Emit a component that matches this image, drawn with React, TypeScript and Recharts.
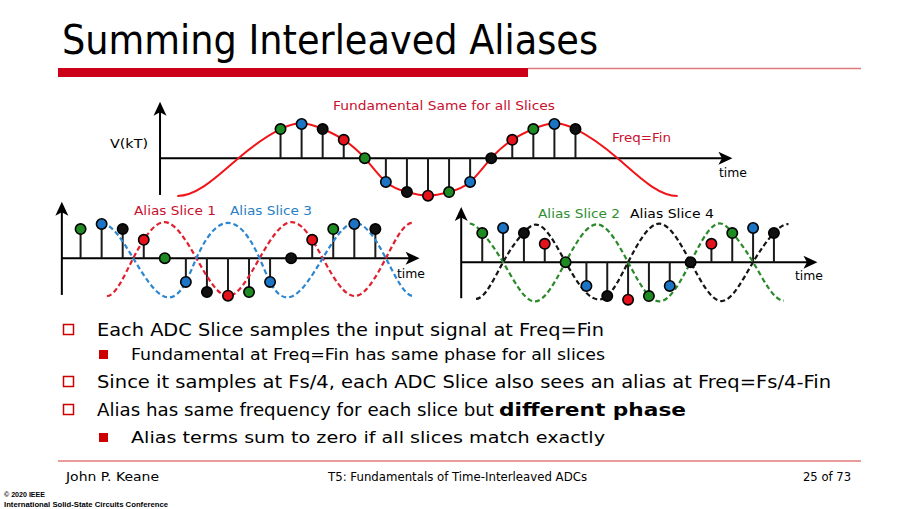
import React from 'react';
import { ComposedChart, Line, Scatter, XAxis, YAxis, ReferenceLine } from 'recharts';

// ---------- data ----------
const sampleIndex = [0, 1, 2, 3, 4, 5, 6, 7, 8, 9, 10, 11, 12, 13, 14];
const sampleValues = [0.81, 0.95, 0.81, 0.51, 0, -0.66, -0.94, -1.04, -0.94, -0.66, 0, 0.51, 0.81, 0.95, 0.81];
const sampleSlice = [2, 3, 4, 1, 2, 3, 4, 1, 2, 3, 4, 1, 2, 3, 4];

const fundamentalT = [-4.9, -2, 0, 1, 2, 3, 4, 5, 6, 7, 8, 9, 10, 11, 12, 13, 14, 16, 18.85];
const fundamentalV = [-1.05, 0, 0.81, 0.97, 0.81, 0.51, 0, -0.66, -0.94, -1.04, -0.94, -0.66, 0, 0.51, 0.81, 0.97, 0.81, 0, -1.05];

const alias1T = [1.25, 2.5, 3, 4, 5.5, 7, 8.5, 10, 11, 11.5, 13, 14.5, 15.75];
const alias1V = [-1.05, 0, 0.51, 1.0, 0, -1.05, 0, 1.0, 0.51, 0, -1.05, 0, 0.98];
const alias3T = [1, 2.5, 4, 5, 5.5, 7, 8.5, 9, 10, 11.5, 13, 14.5, 15.8];
const alias3V = [0.96, 0, -1.07, -0.66, 0, 0.98, 0, -0.66, -1.07, 0, 0.98, 0, -1.05];
const alias2T = [-0.6, 0, 1, 2.5, 4, 5.5, 7, 8, 8.5, 10, 11.5, 12, 13, 14.48];
const alias2V = [1.07, 0.82, 0, -1.09, 0, 1.05, 0, -0.93, -1.09, 0, 1.07, 0.82, 0, -1.07];
const alias4T = [-0.3, 1, 2, 2.5, 4, 5.5, 6, 7, 8.5, 10, 11.5, 13, 14, 14.7];
const alias4V = [-1.02, 0, 0.83, 1.04, 0, -1.03, -0.94, 0, 1.07, 0, -1.08, 0, 0.81, 1.06];

const sliceColors: Record<number, string> = { 1: '#e3121b', 2: '#1e8a22', 3: '#1c75c4', 4: '#111111' };

const toPoints = (t: number[], v: number[]) => t.map((x, i) => ({ x, y: v[i] }));

// Cubic spline curve factory (clamped, flat ends) passed to Recharts as the line type
const clampedSpline: any = (context: any) => {
  let xs: number[] = [];
  let ys: number[] = [];
  return {
    areaStart() {},
    areaEnd() {},
    lineStart() { xs = []; ys = []; },
    point(x: number, y: number) { xs.push(+x); ys.push(+y); },
    lineEnd() {
      const n = xs.length;
      if (!n) return;
      context.moveTo(xs[0], ys[0]);
      if (n === 1) return;
      const h: number[] = [];
      const d: number[] = [];
      for (let i = 0; i < n - 1; i++) {
        h.push(xs[i + 1] - xs[i]);
        d.push((ys[i + 1] - ys[i]) / h[i]);
      }
      const m: number[] = new Array(n).fill(0);
      if (n > 2) {
        const k = n - 2;
        const a: number[] = [], b: number[] = [], c: number[] = [], r: number[] = [];
        for (let j = 0; j < k; j++) {
          const i = j + 1;
          a.push(h[i]);
          b.push(2 * (h[i - 1] + h[i]));
          c.push(h[i - 1]);
          r.push(3 * (h[i] * d[i - 1] + h[i - 1] * d[i]));
        }
        for (let j = 1; j < k; j++) {
          const w = a[j] / b[j - 1];
          b[j] -= w * c[j - 1];
          r[j] -= w * r[j - 1];
        }
        const sol: number[] = new Array(k).fill(0);
        sol[k - 1] = r[k - 1] / b[k - 1];
        for (let j = k - 2; j >= 0; j--) sol[j] = (r[j] - c[j] * sol[j + 1]) / b[j];
        for (let j = 0; j < k; j++) m[j + 1] = sol[j];
      }
      for (let i = 0; i < n - 1; i++) {
        const hh = h[i];
        context.bezierCurveTo(xs[i] + hh / 3, ys[i] + (m[i] * hh) / 3, xs[i + 1] - hh / 3, ys[i + 1] - (m[i + 1] * hh) / 3, xs[i + 1], ys[i + 1]);
      }
    },
  };
};

// ---------- shapes ----------
const makeDot = (fill: string) => (p: any) => (
  <circle cx={p.cx} cy={p.cy} r={5.2} fill={fill} stroke="#000" strokeWidth={1.6} />
);
const UpArrow = (p: any) => (
  <path d={`M${p.cx},${p.cy} L${p.cx + 6.5},${p.cy + 14} L${p.cx},${p.cy + 10.5} L${p.cx - 6.5},${p.cy + 14} Z`} fill="#000" />
);
const RightArrow = (p: any) => (
  <path d={`M${p.cx},${p.cy} L${p.cx - 14},${p.cy - 6.5} L${p.cx - 10.5},${p.cy} L${p.cx - 14},${p.cy + 6.5} Z`} fill="#000" />
);

type Curve = { t: number[]; v: number[]; color: string; dash?: string; width: number };

function StemChart(props: {
  left: number; top: number; width: number; height: number;
  xDomain: [number, number]; yDomain: [number, number];
  axisX: number; axisTop: number; axisBottom: number; axisEnd: number;
  curves: Curve[];
}) {
  const { left, top, width, height, xDomain, yDomain, axisX, axisTop, axisBottom, axisEnd, curves } = props;
  const samples = sampleIndex.map((x, i) => ({ x, y: sampleValues[i], s: sampleSlice[i] }));
  return (
    <div style={{ position: 'absolute', left, top, width, height }}>
      <ComposedChart width={width} height={height} margin={{ top: 0, right: 0, bottom: 0, left: 0 }}>
        <XAxis type="number" dataKey="x" domain={xDomain} hide allowDataOverflow />
        <YAxis type="number" dataKey="y" domain={yDomain} hide allowDataOverflow />
        <ReferenceLine segment={[{ x: axisX, y: axisBottom }, { x: axisX, y: axisTop - 0.2 }]} stroke="#000" strokeWidth={2} ifOverflow="visible" />
        <ReferenceLine segment={[{ x: axisX, y: 0 }, { x: axisEnd - 0.3, y: 0 }]} stroke="#000" strokeWidth={2} ifOverflow="visible" />
        {sampleIndex.map((x, i) => (
          <ReferenceLine key={'s' + i} segment={[{ x, y: 0 }, { x, y: sampleValues[i] }]} stroke="#1a1a1a" strokeWidth={2} ifOverflow="visible" />
        ))}
        <Scatter data={[{ x: axisX, y: axisTop }]} dataKey="y" shape={UpArrow} isAnimationActive={false} />
        <Scatter data={[{ x: axisEnd, y: 0 }]} dataKey="y" shape={RightArrow} isAnimationActive={false} />
        {[1, 2, 3, 4].map((s) => (
          <Scatter key={'d' + s} data={samples.filter((d) => d.s === s)} dataKey="y" shape={makeDot(sliceColors[s])} isAnimationActive={false} />
        ))}
        {curves.map((c, i) => (
          <Line key={'c' + i} data={toPoints(c.t, c.v)} dataKey="y" type={clampedSpline} stroke={c.color} strokeWidth={c.width}
            strokeDasharray={c.dash} dot={false} activeDot={false} isAnimationActive={false} />
        ))}
      </ComposedChart>
    </div>
  );
}

type T = { s: string; x: number; y: number; len: number; size: number; color?: string; bold?: boolean; font?: string };

const texts: T[] = [
  { s: 'Summing Interleaved Aliases', x: 62, y: 54, len: 536, size: 40 },
  { s: 'Fundamental Same for all Slices', x: 333, y: 110, len: 222, size: 13, color: '#c8102e' },
  { s: 'V(kT)', x: 110, y: 148, len: 38, size: 13 },
  { s: 'Freq=Fin', x: 612, y: 142, len: 59, size: 13, color: '#c8102e' },
  { s: 'time', x: 719, y: 177, len: 28, size: 13 },
  { s: 'Alias Slice 1', x: 134, y: 215, len: 82, size: 13, color: '#c8102e' },
  { s: 'Alias Slice 3', x: 230, y: 215, len: 82, size: 13, color: '#2a7fc4' },
  { s: 'time', x: 397, y: 278, len: 28, size: 13 },
  { s: 'Alias Slice 2', x: 538, y: 218, len: 82, size: 13, color: '#2f8f2f' },
  { s: 'Alias Slice 4', x: 630, y: 218, len: 84, size: 13 },
  { s: 'time', x: 795, y: 280, len: 28, size: 13 },
  { s: 'Each ADC Slice samples the input signal at Freq=Fin', x: 97, y: 336, len: 507, size: 18.5 },
  { s: 'Fundamental at Freq=Fin has same phase for all slices', x: 131, y: 360, len: 474, size: 16 },
  { s: 'Since it samples at Fs/4, each ADC Slice also sees an alias at Freq=Fs/4-Fin', x: 97, y: 388, len: 734, size: 18.5 },
  { s: 'Alias has same frequency for each slice but', x: 97, y: 416, len: 397, size: 18.5 },
  { s: 'different phase', x: 499, y: 416, len: 187, size: 18.5, bold: true },
  { s: 'Alias terms sum to zero if all slices match exactly', x: 131, y: 443, len: 474, size: 16 },
  { s: 'John P. Keane', x: 66, y: 481, len: 93, size: 12 },
  { s: 'T5: Fundamentals of Time-Interleaved ADCs', x: 328, y: 481, len: 259, size: 12 },
  { s: '25 of 73', x: 803, y: 481, len: 48, size: 12 },
  { s: '\u00A9 2020 IEEE', x: 4, y: 497, len: 41, size: 7, bold: true, font: 'Liberation Sans' },
  { s: 'International Solid-State Circuits Conference', x: 4, y: 507, len: 164, size: 7, bold: true, font: 'Liberation Sans' },
];

export default function App() {
  const redBox = '#cc0000';
  return (
    <div style={{ position: 'absolute', left: 0, top: 0, width: 913, height: 509, background: '#fff', overflow: 'hidden' }}>
      <svg width={913} height={509} style={{ position: 'absolute', left: 0, top: 0 }}>
        <rect x={58} y={68} width={470} height={9} fill="#cc0018" />
        <line x1={528} y1={68.5} x2={861} y2={68.5} stroke="#e07a7a" strokeWidth={1.5} />
        <rect x={63.5} y={324.5} width={10} height={10} fill="none" stroke={redBox} strokeWidth={1.5} />
        <rect x={99} y={350} width={9} height={9} fill={redBox} />
        <rect x={63.5} y={376.5} width={10} height={10} fill="none" stroke={redBox} strokeWidth={1.5} />
        <rect x={63.5} y={404.5} width={10} height={10} fill="none" stroke={redBox} strokeWidth={1.5} />
        <rect x={99} y={433} width={9} height={9} fill={redBox} />
        <line x1={58} y1={461} x2={861} y2={461} stroke="#e07a7a" strokeWidth={1.5} />
        {texts.map((t, i) => (
          <text key={i} x={t.x} y={t.y} fontSize={t.size} fill={t.color || '#000'} fontWeight={t.bold ? 'bold' : 'normal'}
            fontFamily={t.font || 'DejaVu Sans'} textLength={t.len} lengthAdjust="spacingAndGlyphs">{t.s}</text>
        ))}
      </svg>
      <StemChart left={112} top={97} width={632} height={108} xDomain={[-8, 22]} yDomain={[-1.3, 1.7]}
        axisX={-5.72} axisTop={1.57} axisBottom={-1.02} axisEnd={21.45}
        curves={[{ t: fundamentalT, v: fundamentalV, color: '#f01418', width: 2 }]} />
      <StemChart left={49} top={197} width={379} height={108} xDomain={[-1.5, 16.5]} yDomain={[-1.3, 1.7]}
        axisX={-0.89} axisTop={1.57} axisBottom={-1.02} axisEnd={16.1}
        curves={[
          { t: alias1T, v: alias1V, color: '#e0202e', width: 2.2, dash: '5 3' },
          { t: alias3T, v: alias3V, color: '#2b87d1', width: 2.2, dash: '5 3' },
        ]} />
      <StemChart left={450.5} top={200.5} width={375} height={108} xDomain={[-1.5, 16.5]} yDomain={[-1.3, 1.7]}
        axisX={-1.01} axisTop={1.53} axisBottom={-1.0} axisEnd={16.09}
        curves={[
          { t: alias2T, v: alias2V, color: '#2a8a2a', width: 2.2, dash: '5 3' },
          { t: alias4T, v: alias4V, color: '#151515', width: 2.2, dash: '5 3' },
        ]} />
    </div>
  );
}
